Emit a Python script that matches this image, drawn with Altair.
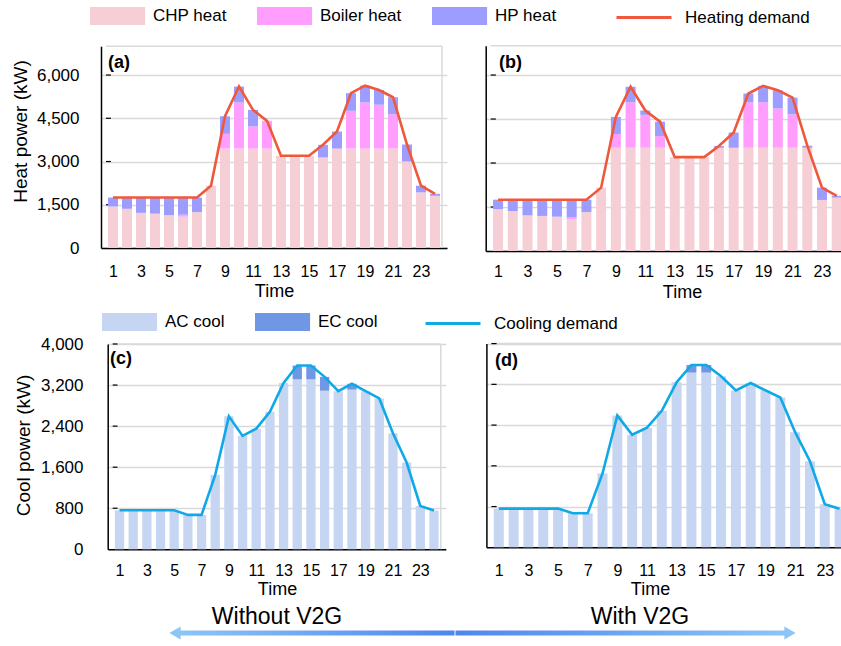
import altair as alt
import pandas as pd

FONT = "Liberation Sans"
W, H = 841, 646

hours = list(range(1, 25))
hour_ticks = list(range(1, 24, 2))

# ---- series names and colours ----
heat_sources = ["CHP heat", "Boiler heat", "HP heat"]
heat_colors = ["#f6cfd6", "#ff9eff", "#9d9dff"]
heat_line_name = "Heating demand"
heat_line_color = "#f0583b"

cool_sources = ["AC cool", "EC cool"]
cool_colors = ["#c6d6f2", "#6f97e3"]
cool_line_name = "Cooling demand"
cool_line_color = "#10a9e8"

# ---- heating (kW) ----
heat_demand = [1750, 1750, 1750, 1750, 1750, 1750, 1750, 2160, 4570, 5600, 4790, 4410,
               3200, 3200, 3200, 3580, 4040, 5370, 5630, 5480, 5230, 3590, 2160, 1880]

chp_without = [1440, 1360, 1220, 1190, 1140, 1085, 1245, 2160, 3450, 3450, 3450, 3450,
               3200, 3200, 3200, 3140, 3450, 3450, 3450, 3450, 3450, 3000, 1930, 1810]
boiler_without = [0, 0, 0, 0, 0, 70, 0, 0, 510, 1600, 770, 940,
                  0, 0, 0, 0, 0, 1310, 1600, 1520, 1190, 0, 0, 0]
hp_without = [310, 390, 530, 560, 610, 595, 505, 0, 610, 550, 570, 20,
              0, 0, 0, 440, 590, 610, 580, 510, 590, 590, 230, 70]

chp_with = [1430, 1360, 1215, 1195, 1170, 1080, 1330, 2160, 3520, 3520, 3520, 3520,
            3200, 3200, 3200, 3520, 3520, 3520, 3520, 3520, 3520, 3520, 1740, 1820]
boiler_with = [0, 0, 0, 0, 0, 65, 0, 0, 470, 1550, 1120, 400,
               0, 0, 0, 0, 0, 1550, 1550, 1340, 1140, 0, 0, 0]
hp_with = [320, 390, 535, 555, 580, 605, 420, 0, 580, 530, 150, 490,
           0, 0, 0, 60, 520, 300, 560, 620, 570, 70, 420, 60]

# ---- cooling (kW) ----
cool_demand = [760, 760, 760, 760, 760, 670, 670, 1450, 2590, 2210, 2350, 2680,
               3240, 3580, 3580, 3360, 3080, 3225, 3080, 2940, 2260, 1690, 845, 755]

ac_without = [760, 760, 760, 760, 760, 670, 670, 1450, 2590, 2210, 2350, 2680,
              3240, 3310, 3310, 3090, 3080, 3110, 3080, 2940, 2260, 1690, 845, 755]
ec_without = [0, 0, 0, 0, 0, 0, 0, 0, 0, 0, 0, 0,
              0, 270, 270, 270, 0, 115, 0, 0, 0, 0, 0, 0]

ac_with = [760, 760, 760, 760, 760, 670, 670, 1450, 2590, 2210, 2350, 2680,
           3240, 3430, 3430, 3360, 3080, 3225, 3080, 2940, 2260, 1690, 845, 755]
ec_with = [0, 0, 0, 0, 0, 0, 0, 0, 0, 0, 0, 0,
           0, 150, 150, 0, 0, 0, 0, 0, 0, 0, 0, 0]

heat_ticks = [0, 1500, 3000, 4500, 6000]
cool_ticks = [0, 800, 1600, 2400, 3200, 4000]


def panel(parts, names, colors, demand, dname, dcolor, g, fill_legend, stroke_legend):
    xs = alt.Scale(domain=[0.5, 24.5], range=g["xr"], nice=False, zero=False)
    ys = alt.Scale(domain=[0, g["ymax"]], range=g["yr"], nice=False)
    xa = alt.Axis(orient="bottom", offset=g["yr"][0] - H, values=hour_ticks, format="d",
                  grid=False, ticks=False, tickSize=0, domainColor="#000", domainWidth=1.5,
                  labelFont=FONT, labelFontSize=16, labelColor="#000",
                  labelPadding=g["xlp"], labelBaseline="middle",
                  title="Time", titleFont=FONT, titleFontSize=18, titleFontWeight="normal",
                  titleColor="#000", titleX=g["tx"][0], titleY=g["tx"][1],
                  titleBaseline="middle")
    if g["ytitle"]:
        ya = alt.Axis(orient="left", offset=-g["xr"][0], values=g["yvals"], format=",.0f",
                      grid=True, gridColor="#d9d9d9", gridWidth=1.5, ticks=False, tickSize=0,
                      domainColor="#000", domainWidth=1.5, labelFont=FONT, labelFontSize=17,
                      labelColor="#000", labelPadding=g["ylp"],
                      title=g["ytitle"], titleFont=FONT, titleFontSize=19,
                      titleFontWeight="normal", titleColor="#000",
                      titleX=g["ty"][0], titleY=g["ty"][1], titleBaseline="middle")
    else:
        ya = alt.Axis(orient="left", offset=-g["xr"][0], values=g["yvals"],
                      grid=True, gridColor="#d9d9d9", gridWidth=1.5, ticks=False, tickSize=0,
                      domainColor="#000", domainWidth=1.5, labels=False, title=None)

    def X(field):
        return alt.X(field, type="quantitative", scale=xs, axis=xa)

    def Y(field, stack=None):
        if stack:
            return alt.Y(field, type="quantitative", scale=ys, axis=ya, stack=stack)
        return alt.Y(field, type="quantitative", scale=ys, axis=ya)

    rows = []
    for k, (name, vals) in enumerate(zip(names, parts)):
        for h, v in zip(hours, vals):
            rows.append({"hour": h, "kw": v, "source": name, "k": k})
    bars_df = pd.DataFrame(rows)
    dem_df = pd.DataFrame({"hour": hours, "kw": demand, "series": dname})
    box_df = pd.DataFrame({"x0": [0.5], "x1": [24.5], "y0": [0], "y1": [g["ymax"]]})
    tick_df = pd.DataFrame({"v": g["yvals"][1:], "x0": 0.5, "x1": 0.85})

    frame_top = alt.Chart(box_df).mark_rule(color="#d9d9d9", strokeWidth=1.5).encode(
        x=X("x0"), x2="x1", y=Y("y1"))
    frame_right = alt.Chart(box_df).mark_rule(color="#d9d9d9", strokeWidth=1.5).encode(
        x=X("x1"), y=Y("y0"), y2="y1")
    inner_ticks = alt.Chart(tick_df).mark_rule(color="#000", strokeWidth=1.2).encode(
        x=X("x0"), x2="x1", y=Y("v"))

    color = alt.Color("source:N", scale=alt.Scale(domain=names, range=colors),
                      legend=fill_legend)
    bars = alt.Chart(bars_df).mark_bar(size=g["bw"], orient="vertical").encode(
        x=X("hour"), y=Y("kw", "zero"), color=color, order=alt.Order("k:Q"))
    line = alt.Chart(dem_df).mark_line(strokeWidth=2.6).encode(
        x=X("hour"), y=Y("kw"),
        stroke=alt.Stroke("series:N", scale=alt.Scale(domain=[dname], range=[dcolor]),
                          legend=stroke_legend))
    return alt.layer(frame_top, frame_right, inner_ticks, bars, line)


def fill_legend(x, y):
    return alt.Legend(orient="none", legendX=x, legendY=y, direction="horizontal", title=None,
                      symbolType="M-1,-0.5H2.06V0.5H-1Z", symbolSize=1296, symbolStrokeWidth=0,
                      symbolOpacity=1, labelFont=FONT, labelFontSize=17, labelColor="#000",
                      labelOffset=27, columnPadding=30, padding=0, labelLimit=300)


def stroke_legend(x, y):
    return alt.Legend(orient="none", legendX=x, legendY=y, direction="horizontal", title=None,
                      symbolType="stroke", symbolSize=3025, symbolStrokeWidth=3,
                      labelFont=FONT, labelFontSize=17, labelColor="#000",
                      labelOffset=12, padding=0, labelLimit=300)


geo_a = dict(xr=[101, 447], yr=[248, 46.2], ymax=7000, yvals=heat_ticks, bw=10,
             xlp=23, tx=[274, 43], ytitle="Heat power (kW)", ylp=22, ty=[-81, 131])
geo_b = dict(xr=[485.7, 849.1], yr=[251, 45.7], ymax=7000, yvals=heat_ticks, bw=10,
             xlp=20, tx=[682, 41], ytitle=None)
geo_c = dict(xr=[107.7, 445.8], yr=[549.3, 344], ymax=4000, yvals=cool_ticks, bw=9.3,
             xlp=21.5, tx=[277, 40], ytitle="Cool power (kW)", ylp=24.7, ty=[-84.7, 445])
geo_d = dict(xr=[486.4, 852], yr=[547.3, 343.6], ymax=4000, yvals=cool_ticks, bw=10,
             xlp=23.5, tx=[650, 42], ytitle=None)

pa = panel([chp_without, boiler_without, hp_without], heat_sources, heat_colors,
           heat_demand, heat_line_name, heat_line_color, geo_a,
           fill_legend(90, -2), stroke_legend(615, -11.5))
pb = panel([chp_with, boiler_with, hp_with], heat_sources, heat_colors,
           heat_demand, heat_line_name, heat_line_color, geo_b, None, None)
pc = panel([ac_without, ec_without], cool_sources, cool_colors,
           cool_demand, cool_line_name, cool_line_color, geo_c,
           fill_legend(102, 304), stroke_legend(424, 294.5))
pd_ = panel([ac_with, ec_with], cool_sources, cool_colors,
            cool_demand, cool_line_name, cool_line_color, geo_d, None, None)


def label(text, x, y, size, weight="normal", align="left"):
    return alt.Chart(pd.DataFrame({"label": [text]})).mark_text(
        font=FONT, fontSize=size, fontWeight=weight, align=align, baseline="middle",
        color="#000").encode(text="label:N", x=alt.value(x), y=alt.value(y))


def grad(c0, c1):
    return alt.LinearGradient(gradient="linear",
                              stops=[alt.GradientStop(color=c0, offset=0),
                                     alt.GradientStop(color=c1, offset=1)],
                              x1=0, x2=1, y1=0, y2=0)


one = pd.DataFrame({"k": [0]})
ARROW_LIGHT = "#8cc5f6"
ARROW_DARK = "#4f86ee"
arrow_left = alt.Chart(one).mark_rect(fill=grad(ARROW_LIGHT, ARROW_DARK)).encode(
    x=alt.value(178), x2=alt.value(454.5), y=alt.value(630.5), y2=alt.value(635.5))
arrow_right = alt.Chart(one).mark_rect(fill=grad(ARROW_DARK, ARROW_LIGHT)).encode(
    x=alt.value(455.5), x2=alt.value(787), y=alt.value(630.5), y2=alt.value(635.5))
head_left = alt.Chart(one).mark_point(shape="triangle-left", filled=True, size=170,
                                      color=ARROW_LIGHT, opacity=1).encode(
    x=alt.value(175), y=alt.value(633))
head_right = alt.Chart(one).mark_point(shape="triangle-right", filled=True, size=170,
                                       color=ARROW_LIGHT, opacity=1).encode(
    x=alt.value(790), y=alt.value(633))

decor = [
    label("(a)", 108, 62.5, 18, "bold"),
    label("(b)", 499, 62.5, 18, "bold"),
    label("(c)", 110, 359, 18, "bold"),
    label("(d)", 495, 360.5, 18, "bold"),
    label("Without V2G", 277, 617, 23, align="center"),
    label("With V2G", 640, 617, 23, align="center"),
    arrow_left, arrow_right, head_left, head_right,
]

chart = alt.layer(pa, pb, pc, pd_, *decor).resolve_scale(
    x="independent", y="independent", color="independent", stroke="independent"
).properties(
    width=W, height=H, autosize=alt.AutoSizeParams(type="none"), padding=0
).configure_view(stroke=None)

chart.save("out.html", embed_options={"renderer": "svg", "actions": False})
